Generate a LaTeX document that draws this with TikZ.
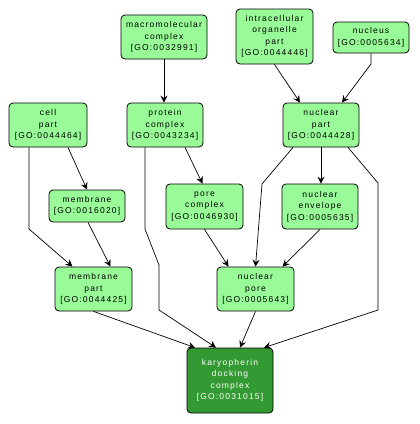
\documentclass[tikz,border=0pt]{standalone}
\usepackage{fontspec}
\setmainfont{Liberation Sans}[LetterSpace=14]
\usetikzlibrary{arrows.meta}
\definecolor{lgreen}{RGB}{152,251,152}
\definecolor{dgreen}{RGB}{51,153,51}
\tikzset{
  term/.style={draw=black, line width=0.8pt, rounded corners=4pt, fill=lgreen, align=center, inner sep=0pt,
    font=\fontsize{8.5}{11.5}\selectfont, text=black},
  focus/.style={term, fill=dgreen, text=white},
  edge/.style={draw=black, line width=0.7pt, -{Stealth[length=7pt,width=7pt,inset=2.5pt]}}
}
\begin{document}
\begin{tikzpicture}[x=1pt,y=-1pt]
\useasboundingbox (0,0) rectangle (420,424);
\node[term, minimum width=86pt, minimum height=44pt] (macro) at (164,37) {macromolecular\\complex\\{[GO:0032991]}};
\node[term, minimum width=77pt, minimum height=55pt] (intra) at (274.5,36.5) {intracellular\\organelle\\part\\{[GO:0044446]}};
\node[term, minimum width=76pt, minimum height=31pt] (nucleus) at (371,37.5) {nucleus\\{[GO:0005634]}};
\node[term, minimum width=78pt, minimum height=44pt] (cell) at (48,125) {cell\\part\\{[GO:0044464]}};
\node[term, minimum width=76pt, minimum height=44pt] (protein) at (165,125) {protein\\complex\\{[GO:0043234]}};
\node[term, minimum width=76pt, minimum height=44pt] (npart) at (321,125) {nuclear\\part\\{[GO:0044428]}};
\node[term, minimum width=76pt, minimum height=32pt] (membrane) at (87,206) {membrane\\{[GO:0016020]}};
\node[term, minimum width=77pt, minimum height=45pt] (pore) at (204.5,206.5) {pore\\complex\\{[GO:0046930]}};
\node[term, minimum width=76pt, minimum height=45pt] (nenv) at (320,206.5) {nuclear\\envelope\\{[GO:0005635]}};
\node[term, minimum width=77pt, minimum height=44pt] (mpart) at (93.5,289) {membrane\\part\\{[GO:0044425]}};
\node[term, minimum width=77pt, minimum height=44pt] (npore) at (255.5,289) {nuclear\\pore\\{[GO:0005643]}};
\node[focus, minimum width=86pt, minimum height=65pt] (karyo) at (230,380.5) {karyopherin\\docking\\complex\\{[GO:0031015]}};
% bend coordinates
\coordinate (b1) at (371,64);
\coordinate (b2) at (29,229);
\coordinate (b3) at (145,229);
\coordinate (b4) at (159,265);
\coordinate (b5) at (159,310);
\coordinate (b6) at (378,183);
\coordinate (b7) at (378,310);
\coordinate (b8) at (262,184);
% edges
\draw[edge] (macro.south) -- (macro.south |- protein.north);
\draw[edge] (intra.south) -- ([xshift=-21pt]npart.north);
\draw[edge] (nucleus.south) -- (b1) -- ([xshift=21pt]npart.north);
\draw[edge] ([xshift=20pt]cell.south) -- (membrane.north);
\draw[edge] ([xshift=-19pt]cell.south) -- (b2) -- ([xshift=-21pt]mpart.north);
\draw[edge] ([xshift=1pt]membrane.south) -- ([xshift=17pt]mpart.north);
\draw[edge] ([xshift=20pt]protein.south) -- ([xshift=-2pt]pore.north);
\draw[edge] ([xshift=-20pt]protein.south) -- (b3) -- (b4) -- (b5) -- ([xshift=-14pt]karyo.north);
\draw[edge] (mpart.south) -- ([xshift=-35pt]karyo.north);
\draw[edge] (npore.south) -- ([xshift=10pt]karyo.north);
\draw[edge] ([xshift=27pt]npart.south) -- (b6) -- (b7) -- ([xshift=34pt]karyo.north);
\draw[edge] ([xshift=-28pt]npart.south) -- (b8) -- (npore.north);
\draw[edge] (npart.south) -- (npart.south |- nenv.north);
\draw[edge] (pore.south) -- ([xshift=-27pt]npore.north);
\draw[edge] (nenv.south) -- ([xshift=27pt]npore.north);
\end{tikzpicture}
\end{document}
